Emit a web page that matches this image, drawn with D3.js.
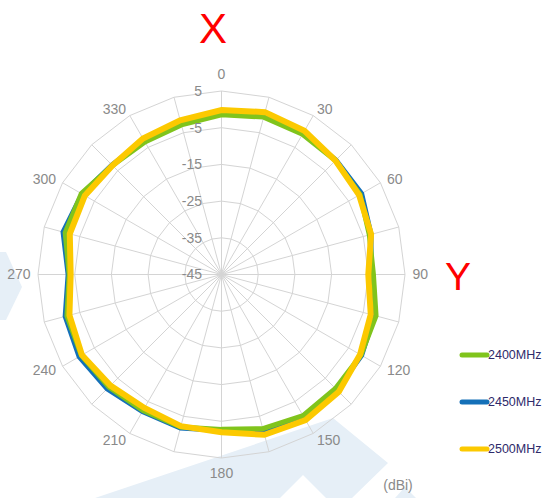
<!DOCTYPE html>
<html><head><meta charset="utf-8">
<script src="https://cdn.jsdelivr.net/npm/d3@7"></script>
<style>html,body{margin:0;padding:0;background:#fff;}svg{display:block;font-family:"Liberation Sans",Arial,sans-serif;}</style>
</head><body>
<script>
const angles = [0,15,30,45,60,75,90,105,120,135,150,165,180,195,210,225,240,255,270,285,300,315,330,345];
const angleLabels = [0,30,60,90,120,150,180,210,240,270,300,330];
const ringTicks = [5,-5,-15,-25,-35,-45];
const seriesNames = ["2400MHz","2450MHz","2500MHz"];
const seriesColors = ["#80c41c","#1470b8","#fcc900"];
const s2400 = [-1.5,-0.6,-0.9,-1.1,-1.4,-3.3,-3.6,-1.4,-1.1,-1.1,-0.6,-1.5,-2.8,-2.0,-2.2,-1.6,-0.9,-1.4,-3.5,-0.9,-0.9,-3.0,-3.3,-2.8];
const s2450 = [-1.1,0.0,-0.6,-0.9,-0.9,-2.8,-4.3,-1.9,-0.9,-0.6,0.2,-0.9,-2.5,-1.7,-1.9,-0.9,-0.2,-0.9,-3.2,-0.3,-1.1,-2.8,-2.8,-2.2];
const s2500 = [-0.2,0.8,0.2,-1.1,-1.7,-2.8,-5.0,-2.9,-1.4,0.2,0.8,0.2,-2.0,-2.2,-3.0,-2.2,-1.1,-2.1,-3.9,-2.2,-2.0,-3.0,-2.2,-1.5];
const seriesValues = [s2400, s2450, s2500];

const W = 552, H = 498, cx = 221.5, cy = 274.5, R = 183.5;
const svg = d3.select("body").append("svg").attr("width", W).attr("height", H);

// watermark decoration
const wm = svg.append("g").attr("fill", "#e6eff7");
wm.append("polygon").attr("points", "0,252 6,252 22,287 6,320 0,320");
wm.append("polygon").attr("points", "95,498 333,418 388,463 352,498 326,498 303,475 280,498");
wm.append("polygon").attr("points", "395,498 405,487 416,498");

const r = d3.scaleLinear().domain([-45, 5]).range([0, R]);
const a = d3.scaleLinear().domain([0, 360]).range([0, 2 * Math.PI]);
const g = svg.append("g").attr("transform", `translate(${cx},${cy})`);

// rings (polygonal)
const ringLine = d3.lineRadial().curve(d3.curveLinearClosed);
ringTicks.filter(v => v > -45).forEach(v => {
  g.append("path").attr("d", ringLine(angles.map(d => [a(d), r(v)])))
    .attr("fill", "none").attr("stroke", "#d4d4d4").attr("stroke-width", 1);
});
// spokes
angles.forEach(d => {
  const t = a(d);
  g.append("line").attr("x1", 0).attr("y1", 0)
    .attr("x2", R * Math.sin(t)).attr("y2", -R * Math.cos(t))
    .attr("stroke", "#d4d4d4").attr("stroke-width", 1);
});

// series
const line = d3.lineRadial().curve(d3.curveLinearClosed)
  .angle((d, i) => a(angles[i])).radius(d => r(d));
const order = [1, 0, 2];
const widths = [5, 5, 6];
order.forEach(k => {
  g.append("path").attr("d", line(seriesValues[k]))
    .attr("fill", "none").attr("stroke", seriesColors[k])
    .attr("stroke-width", widths[k]).attr("stroke-linejoin", "miter");
});

// ring labels
ringTicks.forEach(v => {
  g.append("text").attr("x", -19.5).attr("y", -r(v)).attr("dy", "0.35em")
    .attr("text-anchor", "end").attr("font-size", 14).attr("fill", "#8a8a8a").text(v);
});

// angle labels
angleLabels.forEach(d => {
  const t = a(d), rr = 191;
  let x = rr * Math.sin(t), y = -rr * Math.cos(t);
  let anchor = d === 0 || d === 180 ? "middle" : (d < 180 ? "start" : "end");
  if (d === 0) y -= 9;
  if (d === 180) y += 8;
  g.append("text").attr("x", x).attr("y", y).attr("dy", "0.35em")
    .attr("text-anchor", anchor).attr("font-size", 14).attr("fill", "#8a8a8a").text(d);
});

// unit
svg.append("text").attr("x", 398).attr("y", 490).attr("text-anchor", "middle")
  .attr("font-size", 14).attr("fill", "#8a8a8a").text("(dBi)");

// X / Y
svg.append("text").attr("x", 213).attr("y", 43).attr("text-anchor", "middle")
  .attr("font-size", 42).attr("fill", "#ff0000").text("X");
svg.append("text").attr("x", 458).attr("y", 290).attr("text-anchor", "middle")
  .attr("font-size", 39).attr("fill", "#ff0000").text("Y");

// legend
const legY = [355, 402, 449];
seriesNames.forEach((n, i) => {
  const lg = svg.append("g");
  lg.append("line").attr("x1", 462).attr("x2", 487).attr("y1", legY[i]).attr("y2", legY[i])
    .attr("stroke", seriesColors[i]).attr("stroke-width", 5).attr("stroke-linecap", "round");
  lg.append("text").attr("x", 488).attr("y", legY[i]).attr("dy", "0.35em")
    .attr("font-size", 12.5).attr("fill", "#2e2a6a").text(n);
});
</script>
</body></html>
